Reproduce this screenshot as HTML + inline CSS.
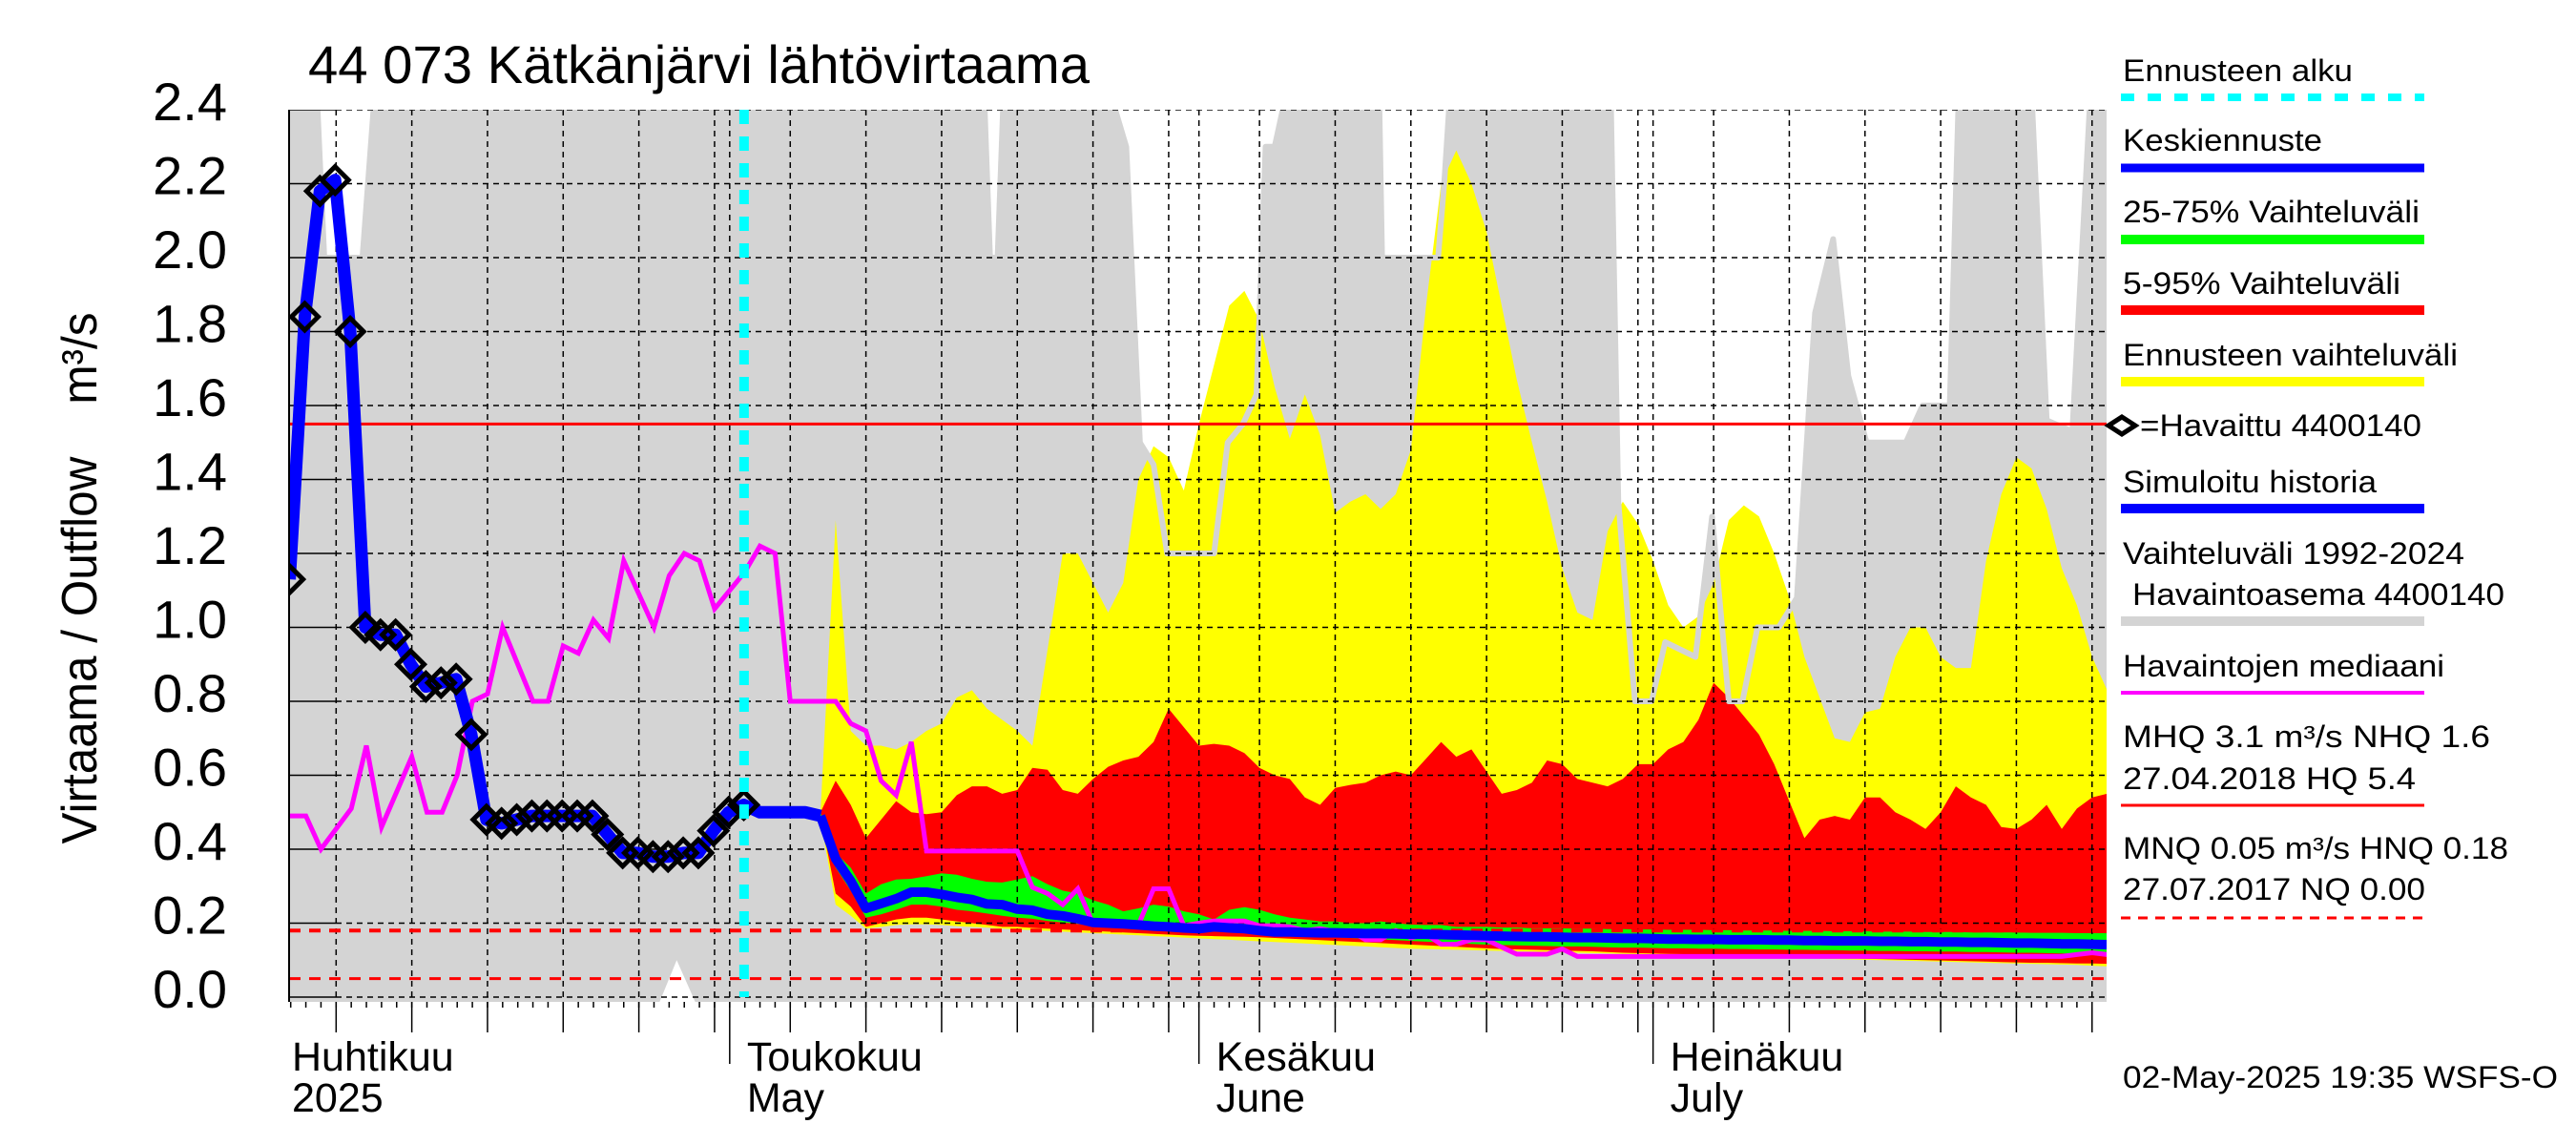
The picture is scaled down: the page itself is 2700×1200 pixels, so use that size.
<!DOCTYPE html>
<html><head><meta charset="utf-8"><title>44 073 Kätkänjärvi lähtövirtaama</title>
<style>
html,body{margin:0;padding:0;background:#fff;}
svg{display:block;font-family:"Liberation Sans",Arial,sans-serif;}
</style></head>
<body>
<svg id="chart" width="2700" height="1200" viewBox="0 0 2700 1200" xmlns="http://www.w3.org/2000/svg">
<rect x="0" y="0" width="2700" height="1200" fill="#fff"/>
<defs><clipPath id="plotclip"><rect x="303" y="115" width="1905" height="935"/></clipPath></defs>
<g id="plot" clip-path="url(#plotclip)"></g>
<g id="axes"></g>
<text x="323" y="87" font-size="56" textLength="819" lengthAdjust="spacingAndGlyphs">44 073 Kätkänjärvi lähtövirtaama</text>
<text transform="translate(101,606) rotate(-90)" text-anchor="middle" font-size="52" textLength="557" lengthAdjust="spacingAndGlyphs" xml:space="preserve">Virtaama / Outflow    m³/s</text>
<g id="legend"></g>
</svg>
<script>
// ---- data ----
var yTicks = [0.0,0.2,0.4,0.6,0.8,1.0,1.2,1.4,1.6,1.8,2.0,2.2,2.4];
var yTickLabels = ["0.0","0.2","0.4","0.6","0.8","1.0","1.2","1.4","1.6","1.8","2.0","2.2","2.4"];
var monthStarts = [0,30,61,91];
var monthLabels1 = ["Huhtikuu","Toukokuu","Kesäkuu","Heinäkuu"];
var monthLabels2 = ["2025","May","June","July"];
var monthLen = [30,31,30,31];
var forecastStart = 30.95;
var mhqLine = 1.55, hnqLine = 0.18, mnqLine = 0.05;

var obsDays = [0.93,1.93,2.93,3.93,4.93,5.93,6.93,7.93,8.93,9.93,10.93,11.93,12.93,13.93,14.93,15.93,16.93,17.93,18.93,19.93,20.93,21.93,22.93,23.93,24.93,25.93,26.93,27.93,28.93,29.93,30.93];
var obsVals = [1.13,1.84,2.18,2.21,1.80,1.00,0.98,0.98,0.90,0.84,0.85,0.86,0.71,0.48,0.47,0.48,0.49,0.49,0.49,0.49,0.49,0.44,0.39,0.39,0.38,0.38,0.39,0.39,0.45,0.50,0.52];
var simExtraDays = [32,33,34,35,36];
var simExtraVals = [0.50,0.50,0.50,0.50,0.49];

var fcDays = [];
for (var i=36;i<=121;i++) fcDays.push(i);
var ensMax = [0.5,1.29,0.72,0.68,0.68,0.67,0.69,0.72,0.74,0.81,0.83,0.78,0.75,0.72,0.68,0.94,1.2,1.2,1.12,1.04,1.12,1.40,1.49,1.46,1.37,1.55,1.71,1.87,1.91,1.83,1.65,1.51,1.63,1.52,1.31,1.34,1.36,1.32,1.36,1.48,1.87,2.2,2.29,2.2,2.07,1.87,1.67,1.5,1.34,1.16,1.04,1.02,1.26,1.34,1.28,1.18,1.06,1.0,1.03,1.12,1.29,1.33,1.3,1.2,1.08,0.92,0.81,0.7,0.69,0.77,0.78,0.92,1.0,1.0,0.92,0.89,0.89,1.18,1.36,1.46,1.43,1.32,1.16,1.06,0.92,0.83];
var p95 = [0.5,0.585,0.52,0.43,0.48,0.53,0.5,0.495,0.5,0.546,0.57,0.57,0.55,0.56,0.62,0.615,0.56,0.55,0.59,0.623,0.64,0.65,0.69,0.78,0.73,0.68,0.685,0.68,0.66,0.62,0.6,0.59,0.54,0.52,0.566,0.574,0.58,0.6,0.61,0.6,0.645,0.69,0.65,0.67,0.61,0.55,0.56,0.58,0.64,0.63,0.59,0.58,0.57,0.59,0.63,0.63,0.67,0.69,0.75,0.85,0.81,0.76,0.71,0.63,0.53,0.43,0.48,0.49,0.48,0.54,0.54,0.5,0.48,0.455,0.5,0.57,0.54,0.52,0.46,0.455,0.48,0.52,0.455,0.51,0.54,0.55];
var p75 = [0.5,0.39,0.35,0.28,0.305,0.318,0.32,0.327,0.335,0.331,0.32,0.312,0.31,0.318,0.327,0.305,0.288,0.28,0.262,0.25,0.232,0.24,0.25,0.245,0.232,0.224,0.21,0.236,0.243,0.236,0.224,0.215,0.21,0.205,0.205,0.2,0.2,0.205,0.2,0.196,0.195,0.195,0.19,0.19,0.19,0.188,0.188,0.186,0.186,0.186,0.185,0.185,0.184,0.184,0.183,0.183,0.182,0.182,0.182,0.181,0.181,0.18,0.18,0.18,0.179,0.179,0.179,0.178,0.178,0.178,0.177,0.177,0.177,0.176,0.176,0.176,0.175,0.175,0.175,0.175,0.174,0.174,0.174,0.173,0.173,0.173];
var median = [0.49,0.374,0.314,0.24,0.253,0.266,0.284,0.284,0.278,0.27,0.264,0.252,0.25,0.238,0.235,0.224,0.22,0.212,0.202,0.2,0.198,0.195,0.192,0.19,0.187,0.185,0.19,0.187,0.185,0.18,0.176,0.176,0.175,0.174,0.174,0.173,0.172,0.172,0.171,0.17,0.17,0.169,0.168,0.167,0.166,0.165,0.164,0.163,0.163,0.162,0.161,0.161,0.16,0.159,0.159,0.158,0.157,0.157,0.156,0.156,0.155,0.155,0.155,0.154,0.154,0.153,0.153,0.152,0.152,0.152,0.151,0.151,0.15,0.15,0.149,0.149,0.148,0.148,0.147,0.146,0.146,0.145,0.144,0.144,0.143,0.142];
var p25 = [0.49,0.35,0.288,0.215,0.224,0.236,0.25,0.25,0.245,0.236,0.232,0.226,0.22,0.215,0.212,0.206,0.202,0.198,0.192,0.19,0.188,0.186,0.184,0.182,0.18,0.178,0.177,0.176,0.174,0.172,0.17,0.168,0.166,0.164,0.162,0.16,0.158,0.156,0.154,0.152,0.15,0.148,0.146,0.144,0.142,0.141,0.14,0.139,0.138,0.137,0.137,0.136,0.135,0.134,0.134,0.133,0.132,0.132,0.131,0.131,0.13,0.13,0.129,0.129,0.128,0.128,0.127,0.127,0.126,0.126,0.125,0.125,0.124,0.124,0.123,0.123,0.122,0.122,0.121,0.12,0.12,0.119,0.118,0.118,0.117,0.116];
var p05 = [0.49,0.28,0.245,0.19,0.2,0.21,0.215,0.215,0.21,0.205,0.2,0.195,0.19,0.19,0.187,0.185,0.183,0.181,0.179,0.177,0.175,0.173,0.171,0.169,0.167,0.166,0.165,0.164,0.163,0.162,0.16,0.158,0.156,0.154,0.152,0.15,0.148,0.146,0.144,0.142,0.14,0.138,0.136,0.134,0.132,0.13,0.129,0.128,0.127,0.126,0.125,0.124,0.122,0.12,0.119,0.118,0.117,0.116,0.115,0.114,0.113,0.112,0.111,0.11,0.109,0.108,0.107,0.106,0.105,0.104,0.103,0.102,0.101,0.1,0.099,0.098,0.097,0.096,0.095,0.094,0.093,0.093,0.092,0.091,0.091,0.09];
var ensMin = [0.48,0.25,0.22,0.185,0.19,0.195,0.197,0.197,0.195,0.192,0.19,0.188,0.185,0.183,0.181,0.179,0.177,0.175,0.173,0.171,0.169,0.167,0.165,0.163,0.161,0.159,0.157,0.155,0.153,0.151,0.149,0.147,0.145,0.143,0.141,0.139,0.137,0.135,0.133,0.131,0.13,0.129,0.128,0.127,0.126,0.125,0.124,0.123,0.122,0.121,0.12,0.119,0.118,0.117,0.116,0.115,0.114,0.113,0.112,0.111,0.11,0.109,0.108,0.107,0.106,0.105,0.104,0.103,0.102,0.101,0.1,0.099,0.098,0.097,0.096,0.095,0.094,0.093,0.092,0.091,0.09,0.089,0.088,0.087,0.085,0.083];

var histTopDays = [0.89,2.72,3.22,5.74,6.56,46.8,47.2,47.7,48.1,55.1,56.2,57.1,58.0,58.9,62.0,62.9,63.9,64.8,65.4,66.0,66.8,72.9,73.1,76.8,77.2,77.6,88.2,88.7,89.8,90.9,91.8,93.8,94.9,96.0,96.9,97.9,99.3,100.5,101.7,102.9,103.9,105.1,107.7,108.8,110.6,111.2,116.0,117.0,118.7,119.9,121.0];
var histTopVals = [2.45,2.45,2.0,2.0,2.45,2.45,2.0,2.0,2.45,2.45,2.3,1.5,1.44,1.2,1.2,1.5,1.55,1.63,2.3,2.3,2.45,2.45,2.0,2.0,2.2,2.45,2.45,1.34,0.8,0.8,0.96,0.92,1.3,0.8,0.8,1.0,1.0,1.08,1.85,2.05,1.68,1.5,1.5,1.6,1.6,2.45,2.45,1.56,1.53,2.45,2.45];
var histBotDays = [0.89,25.3,26.5,27.8,121.0];
var histBotVals = [-0.02,-0.02,0.10,-0.02,-0.02];

var medDays = [0.9,2,3,5,6,7,9,10,11,12,13,14,15,17,18,19,20,21,22,23,25,26,27,28,29,30,31,32,33,34,37,38,39,40,41,42,43,49,50,51,52,53,54,57,58,59,60,61,62,64,65,66,67,68,69,70,71,72,73,74,75,76,77,78,79,80,81,82,84,85,86,118,119,120,121];
var medVals = [0.49,0.49,0.40,0.51,0.68,0.46,0.65,0.50,0.50,0.6,0.8,0.82,1.0,0.8,0.8,0.95,0.93,1.02,0.97,1.18,1.0,1.14,1.2,1.18,1.05,1.1,1.15,1.22,1.2,0.8,0.8,0.74,0.72,0.585,0.546,0.69,0.395,0.395,0.297,0.28,0.25,0.293,0.198,0.195,0.293,0.293,0.193,0.2,0.206,0.206,0.193,0.193,0.19,0.18,0.185,0.178,0.18,0.155,0.155,0.18,0.16,0.17,0.143,0.143,0.155,0.155,0.135,0.116,0.116,0.13,0.11,0.11,0.115,0.12,0.115];

// ---- scales ----
function X(d){ return 352.3 + (d-4)*15.866; }
function Y(v){ return 1045 - v*387.5; }
var NS = "http://www.w3.org/2000/svg";
function mk(tag, attrs, parent){ var e=document.createElementNS(NS,tag); for (var k in attrs) e.setAttribute(k, attrs[k]); parent.appendChild(e); return e; }
function pts(ds, vs){ var s=[]; for (var i=0;i<ds.length;i++) s.push(X(ds[i]).toFixed(1)+","+Y(vs[i]).toFixed(1)); return s; }
function band(ds, top, bot){ var a=pts(ds,top); var b=pts(ds,bot).reverse(); return a.concat(b).join(" "); }

var plot = document.getElementById("plot");
var axes = document.getElementById("axes");
var legend = document.getElementById("legend");

// historical range band
var hb = pts(histTopDays, histTopVals).concat(pts(histBotDays, histBotVals).reverse());
var el = mk("polygon",{points:hb.join(" "),fill:"#d4d4d4"},plot);



// forecast bands
el = mk("polygon",{points:band(fcDays,ensMax,ensMin),fill:"#ffff00"},plot);


el = mk("polygon",{points:band(fcDays,p95,p05),fill:"#ff0000"},plot);


el = mk("polygon",{points:band(fcDays,p75,p25),fill:"#00ff00"},plot);



// historical top outline
el = mk("polyline",{points:pts(histTopDays,histTopVals).join(" "),fill:"none",stroke:"#d4d4d4","stroke-width":6,"stroke-linejoin":"round"},plot);



// grid
for (var i=0;i<yTicks.length;i++){
  var gy=Y(yTicks[i]);
  el = mk("line",{x1:352,y1:gy,x2:2208,y2:gy,stroke:"#000","stroke-width":1.5,"stroke-dasharray":"6,5"},plot);
  
  
  el = mk("line",{x1:303,y1:gy,x2:352,y2:gy,stroke:"#000","stroke-width":1.5},plot);
  
  
}
var gridDays=[];
for (var m=0;m<4;m++){
  for (var dom=5; dom<=30; dom+=5) gridDays.push(monthStarts[m]+dom-1);
  if (m>0) gridDays.push(monthStarts[m]);
}
for (var i=0;i<gridDays.length;i++){
  var gx=X(gridDays[i]);
  el = mk("line",{x1:gx,y1:115,x2:gx,y2:1050,stroke:"#000","stroke-width":1.5,"stroke-dasharray":"6,5"},plot);
  
  
}

// reference lines
el = mk("line",{x1:303,y1:Y(mhqLine),x2:2208,y2:Y(mhqLine),stroke:"#ff0000","stroke-width":3},plot);


el = mk("line",{x1:303,y1:Y(hnqLine),x2:2208,y2:Y(hnqLine),stroke:"#ff0000","stroke-width":4,"stroke-dasharray":"12,9"},plot);


el = mk("line",{x1:303,y1:Y(mnqLine),x2:2208,y2:Y(mnqLine),stroke:"#ff0000","stroke-width":3,"stroke-dasharray":"12,9"},plot);



// median of observations
el = mk("polyline",{points:pts(medDays,medVals).join(" "),fill:"none",stroke:"#ff00ff","stroke-width":5,"stroke-linejoin":"miter"},plot);



// simulated history
el = mk("polyline",{points:pts(obsDays.concat(simExtraDays), obsVals.concat(simExtraVals)).join(" "),fill:"none",stroke:"#0000ff","stroke-width":13,"stroke-linejoin":"round"},plot);


// forecast median
el = mk("polyline",{points:pts(fcDays,median).join(" "),fill:"none",stroke:"#0000ff","stroke-width":10,"stroke-linejoin":"round"},plot);



// observed diamonds
for (var i=0;i<obsDays.length;i++){
  var cx=X(obsDays[i]), cy=Y(obsVals[i]), r=14;
  el = mk("polygon",{points:(cx-r)+","+cy+" "+cx+","+(cy-r)+" "+(cx+r)+","+cy+" "+cx+","+(cy+r),fill:"none",stroke:"#000","stroke-width":5},plot);
  
  
}

// forecast start
el = mk("line",{x1:X(forecastStart),y1:115,x2:X(forecastStart),y2:1045,stroke:"#00ffff","stroke-width":10,"stroke-dasharray":"15,13"},plot);



// axes
el = mk("line",{x1:303,y1:115,x2:303,y2:1050,stroke:"#000","stroke-width":2},axes);


for (var i=0;i<yTicks.length;i++){
  el = mk("text",{x:238,y:Y(yTicks[i])+11,"font-size":56,"text-anchor":"end"},axes);
  el.textContent = yTickLabels[i];
  
  
}
for (var d=1; d<=120; d++){
  var tx=X(d);
  el = mk("line",{x1:tx,y1:1050,x2:tx,y2:1056,stroke:"#000","stroke-width":1.5},axes);
  
  
}
for (var m=0;m<4;m++){
  for (var dom=5; dom<=30; dom+=5){
    var tx=X(monthStarts[m]+dom-1);
    el = mk("line",{x1:tx,y1:1050,x2:tx,y2:1082,stroke:"#000","stroke-width":1.5},axes);
    
    
  }
  var mx=X(monthStarts[m]);
  if (m>0){
    el = mk("line",{x1:mx,y1:1050,x2:mx,y2:1115,stroke:"#000","stroke-width":1.5},axes);
    
    
  }
  var lx = m==0 ? 306 : mx+18;
  el = mk("text",{x:lx,y:1122,"font-size":43},axes);
  el.textContent = monthLabels1[m];
  
  
  el = mk("text",{x:lx,y:1165,"font-size":43},axes);
  el.textContent = monthLabels2[m];
  
  
}

// legend
var legText = [
 ["Ennusteen alku",85,241],["Keskiennuste",158,209],["25-75% Vaihteluväli",233,311],["5-95% Vaihteluväli",308,291],
 ["Ennusteen vaihteluväli",383,351],["Simuloitu historia",516,266],["Vaihteluväli 1992-2024",591,358],
 ["Havaintojen mediaani",709,337],["MHQ  3.1 m³/s NHQ  1.6",783,385],["27.04.2018 HQ  5.4",827,307],
 ["MNQ 0.05 m³/s HNQ 0.18",900,404],["27.07.2017 NQ 0.00",943,317]
];
for (var i=0;i<legText.length;i++){
  el = mk("text",{x:2225,y:legText[i][1],"font-size":32,textLength:legText[i][2],lengthAdjust:"spacingAndGlyphs"},legend);
  el.setAttribute("xml:space","preserve");
  el.textContent = legText[i][0];
  
  
}
el = mk("text",{x:2235,y:634,"font-size":32,textLength:390,lengthAdjust:"spacingAndGlyphs"},legend);
el.textContent = "Havaintoasema 4400140";


el = mk("text",{x:2243,y:457,"font-size":32,textLength:295,lengthAdjust:"spacingAndGlyphs"},legend);
el.textContent = "=Havaittu 4400140";


el = mk("polygon",{points:"2210,446 2224,437 2238,446 2224,455",fill:"none",stroke:"#000","stroke-width":5},legend);



var legLines = [
 [102,"#00ffff",8,"14,14"],[176,"#0000ff",9,""],[251,"#00ff00",10,""],[325,"#ff0000",10,""],[400,"#ffff00",10,""],
 [533,"#0000ff",10,""],[651,"#d4d4d4",10,""],[726,"#ff00ff",4,""],[844,"#ff0000",3,""],[962,"#ff0000",3,"10,8"]
];
for (var i=0;i<legLines.length;i++){
  var at={x1:2223,y1:legLines[i][0],x2:2541,y2:legLines[i][0],stroke:legLines[i][1],"stroke-width":legLines[i][2]};
  if (legLines[i][3]) at["stroke-dasharray"]=legLines[i][3];
  el = mk("line",at,legend);
  
  
}
el = mk("text",{x:2225,y:1140,"font-size":32,textLength:456,lengthAdjust:"spacingAndGlyphs"},legend);
el.textContent = "02-May-2025 19:35 WSFS-O";


</script>
</body></html>
